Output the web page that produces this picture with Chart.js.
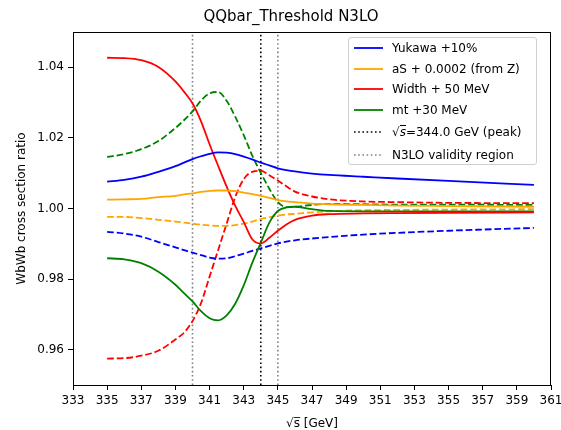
<!DOCTYPE html>
<html>
<head>
<meta charset="utf-8">
<script src="https://cdn.jsdelivr.net/npm/chart.js@4/dist/chart.umd.min.js"></script>
<style>
  body { margin: 0; background: #fff; }
  #wrap { position: relative; width: 561px; height: 430px; }
  #legend {
    position: absolute; left: 348px; top: 37px; width: 189px; height: 128px;
    border: 1px solid #d0d0d0; border-radius: 3px; background: rgba(255,255,255,0.8);
    font-family: 'DejaVu Sans', sans-serif; font-size: 12px; color: #000;
    box-sizing: border-box;
  }
  #legend .row { position: absolute; left: 0; height: 16px; line-height: 16px; white-space: nowrap; }
  #legend svg { position: absolute; left: 4px; top: 0; }
  #legend .txt { position: absolute; left: 43px; top: 0; }
  .ov { font-style: italic; border-top: 1px solid #000; line-height: 12px; display: inline-block; }
</style>
</head>
<body>
<div id="wrap">
  <canvas id="chart" width="561" height="430"></canvas>
  <div id="legend"></div>
</div>
<script>
// sqrt(s) grid in GeV
const energies = [335, 336, 337, 338, 339, 339.5, 340, 340.5, 341, 341.5, 342, 342.5, 343,
                  343.5, 344, 344.5, 345, 345.5, 346, 347, 348, 350, 352, 355, 360];

// ratio to nominal, up (solid) and down (dashed) variations
const yukawaUp = [1.0076, 1.0081, 1.0090, 1.0104, 1.0120, 1.0130, 1.0140, 1.0148, 1.0155, 1.0159, 1.0158, 1.0154, 1.0147,
                  1.0139, 1.0130, 1.0122, 1.0114, 1.0109, 1.0105, 1.0099, 1.0095, 1.0090, 1.0085, 1.0078, 1.0067];
const yukawaDown = [0.9934, 0.9929, 0.9920, 0.9905, 0.9890, 0.9882, 0.9875, 0.9868, 0.9861, 0.9858, 0.9859, 0.9865, 0.9872,
                    0.9880, 0.9887, 0.9894, 0.9901, 0.9906, 0.9910, 0.9915, 0.9919, 0.9926, 0.9931, 0.9937, 0.9945];
const alphaSUp = [1.0025, 1.0026, 1.0027, 1.0032, 1.0036, 1.0040, 1.0043, 1.0047, 1.0050, 1.0051, 1.0051, 1.0049, 1.0045,
                  1.0041, 1.0036, 1.0030, 1.0024, 1.0020, 1.0018, 1.0014, 1.0012, 1.0010, 1.0008, 1.0007, 1.0005];
const alphaSDown = [0.9976, 0.9976, 0.9973, 0.9968, 0.9963, 0.9960, 0.9957, 0.9954, 0.9952, 0.9951, 0.9951, 0.9953, 0.9957,
                    0.9963, 0.9970, 0.9975, 0.9980, 0.9983, 0.9985, 0.9989, 0.9992, 0.9995, 0.9996, 0.9997, 0.9998];
const widthUp = [1.0427, 1.0426, 1.0420, 1.0401, 1.0360, 1.0331, 1.0298, 1.0247, 1.0182, 1.0121, 1.0062, 1.0008, 0.9962,
                 0.9913, 0.9901, 0.9917, 0.9937, 0.9955, 0.9968, 0.9980, 0.9984, 0.9986, 0.9987, 0.9988, 0.9989];
const widthDown = [0.9575, 0.9576, 0.9583, 0.9597, 0.9629, 0.9648, 0.9681, 0.9732, 0.9807, 0.9882, 0.9957, 1.0032, 1.0083,
                   1.0104, 1.0107, 1.0094, 1.0079, 1.0063, 1.0048, 1.0034, 1.0026, 1.0020, 1.0018, 1.0016, 1.0015];
const massUp = [0.9859, 0.9856, 0.9845, 0.9821, 0.9784, 0.9760, 0.9737, 0.9709, 0.9689, 0.9683, 0.9697, 0.9730, 0.9782,
                0.9846, 0.9903, 0.9960, 0.9993, 1.0003, 1.0005, 0.9998, 0.9993, 0.9992, 0.9992, 0.9992, 0.9992];
const massDown = [1.0146, 1.0154, 1.0168, 1.0191, 1.0228, 1.0250, 1.0275, 1.0306, 1.0326, 1.0330, 1.0305, 1.0260, 1.0208,
                  1.0150, 1.0101, 1.0056, 1.0018, 1.0004, 1.0005, 1.0010, 1.0013, 1.0012, 1.0011, 1.0011, 1.0010];

const variationLabels = ['Yukawa +10%', 'aS + 0.0002 (from Z)', 'Width + 50 MeV', 'mt +30 MeV'];
const variationColors = ['#0000ff', '#ffa500', '#ff0000', '#008000'];

const peakEnergy = 344.0;
const validityRange = [340, 345];

const xTicks = [333, 335, 337, 339, 341, 343, 345, 347, 349, 351, 353, 355, 357, 359, 361];
const yTicks = [0.96, 0.98, 1.00, 1.02, 1.04];
const xRange = [333, 361];
const yRange = [0.95, 1.05];

Chart.defaults.font.family = "'DejaVu Sans', sans-serif";
Chart.defaults.color = '#000';

const toPoints = (vals) => vals.map((v, i) => ({ x: energies[i], y: v }));
const vline = (x) => yRange.map(y => ({ x: x, y: y }));

const curve = (label, color, vals, dashed) => ({
    label: label,
    data: toPoints(vals),
    borderColor: color,
    borderWidth: 1.8,
    borderDash: dashed ? [6.7, 2.9] : [],
    pointRadius: 0,
    cubicInterpolationMode: 'monotone',
    inLegend: !dashed
});

const marker = (label, color, x, inLegend) => ({
    label: label,
    data: vline(x),
    borderColor: color,
    borderWidth: 1.6,
    borderDash: [1.6, 2.6],
    pointRadius: 0,
    tension: 0,
    inLegend: inLegend
});

const upSeries = [yukawaUp, alphaSUp, widthUp, massUp];
const downSeries = [yukawaDown, alphaSDown, widthDown, massDown];

const datasets = [];
upSeries.forEach((vals, i) => datasets.push(curve(variationLabels[i], variationColors[i], vals, false)));
downSeries.forEach((vals, i) => datasets.push(curve(variationLabels[i] + ' (down)', variationColors[i], vals, true)));
datasets.push(marker('√s=' + peakEnergy.toFixed(1) + ' GeV (peak)', '#000000', peakEnergy, true));
datasets.push(marker('N3LO validity region', '#808080', validityRange[0], true));
datasets.push(marker('N3LO validity region', '#808080', validityRange[1], false));

// box around the plot area, like matplotlib spines
const frame = {
    id: 'frame',
    afterDatasetsDraw(chart) {
        const { ctx, chartArea: a } = chart;
        ctx.save();
        ctx.strokeStyle = '#000';
        ctx.lineWidth = 1;
        ctx.strokeRect(Math.round(a.left) + 0.5, Math.round(a.top) + 0.5,
                       Math.round(a.right - a.left) - 1, Math.round(a.bottom - a.top));
        ctx.restore();
    }
};

// left padding shifts the title centre; the y scale makes up the rest of the margin
const padLeft = 31;

const chart = new Chart(document.getElementById('chart').getContext('2d'), {
    type: 'line',
    data: { datasets: datasets },
    options: {
        responsive: false,
        animation: false,
        layout: { padding: { left: padLeft, right: 10, top: 0, bottom: 0 } },
        plugins: {
            legend: { display: false },
            tooltip: { enabled: false },
            title: {
                display: true,
                text: 'QQbar_Threshold N3LO',
                font: { size: 15, weight: 'normal' },
                color: '#000',
                padding: { top: 8.5, bottom: 5.5 }
            }
        },
        scales: {
            x: {
                type: 'linear',
                min: xRange[0],
                max: xRange[1],
                afterBuildTicks: (scale) => { scale.ticks = xTicks.map(v => ({ value: v })); },
                afterFit: (scale) => { scale.height = 45; scale.paddingLeft = 0; scale.paddingRight = 0; },
                ticks: { font: { size: 12 }, color: '#000', padding: 4, maxRotation: 0, autoSkip: false },
                grid: { drawOnChartArea: false, drawTicks: true, tickLength: 5, tickColor: '#000', color: '#000' },
                border: { display: true, color: '#000' },
                title: { display: true, text: '√s̅ [GeV]', font: { size: 12 }, color: '#000', padding: { top: 0, bottom: -1 } }
            },
            y: {
                min: yRange[0],
                max: yRange[1],
                afterBuildTicks: (scale) => { scale.ticks = yTicks.map(v => ({ value: v })); },
                afterFit: (scale) => { scale.width = 73 - padLeft; scale.paddingTop = 0; scale.paddingBottom = 0; },
                ticks: { font: { size: 12 }, color: '#000', padding: 4, callback: (v) => Number(v).toFixed(2) },
                grid: { drawOnChartArea: false, drawTicks: true, tickLength: 5, tickColor: '#000', color: '#000' },
                border: { display: true, color: '#000' },
                title: { display: true, text: 'WbWb cross section ratio', font: { size: 12 }, color: '#000', padding: { top: 14.5 - padLeft, bottom: 0 } }
            }
        }
    },
    plugins: [frame]
});

// legend inside the axes, built from the datasets
const rowCenters = [10, 31, 51, 72, 94, 117];
const legendEl = document.getElementById('legend');
chart.data.datasets.filter(d => d.inLegend).forEach((d, i) => {
    const row = document.createElement('div');
    row.className = 'row';
    row.style.top = (rowCenters[i] - 8) + 'px';
    const dash = d.borderDash.length ? d.borderDash.join(',') : 'none';
    const text = d.label.replace('√s', '√<span class="ov">s</span>');
    row.innerHTML =
        '<svg width="32" height="16"><line x1="1" y1="8" x2="30" y2="8" stroke="' + d.borderColor +
        '" stroke-width="' + d.borderWidth + '" stroke-dasharray="' + dash + '"/></svg>' +
        '<span class="txt">' + text + '</span>';
    legendEl.appendChild(row);
});
</script>
</body>
</html>
